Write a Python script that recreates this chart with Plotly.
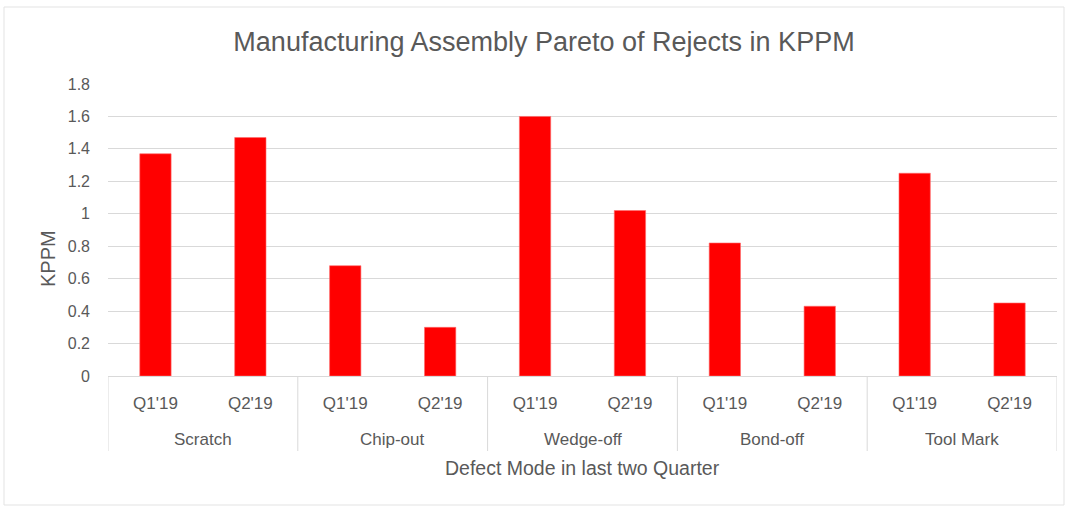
import plotly.graph_objects as go

# Defect modes (outer category) and quarters (inner category)
defect_modes = ["Scratch", "Chip-out", "Wedge-off", "Bond-off", "Tool Mark"]
quarters = ["Q1'19", "Q2'19"]
# Rejects in KPPM, Q1 then Q2 for each defect mode
kppm_q1 = [1.37, 0.68, 1.60, 0.82, 1.25]
kppm_q2 = [1.47, 0.30, 1.02, 0.43, 0.45]
y_ticks = [0, 0.2, 0.4, 0.6, 0.8, 1, 1.2, 1.4, 1.6, 1.8]
y_tick_labels = ["0", "0.2", "0.4", "0.6", "0.8", "1", "1.2", "1.4", "1.6", "1.8"]

# one category per (mode, quarter) pair; the axis shows only the quarter
categories, tick_text, values = [], [], []
for mode, a, b in zip(defect_modes, kppm_q1, kppm_q2):
    for q, v in zip(quarters, (a, b)):
        categories.append(f"{mode}|{q}")
        tick_text.append(q)
        values.append(v)

text_color = "#595959"
grid_color = "#d9d9d9"
font_family = "Liberation Sans, Arial, sans-serif"

W, H = 1068, 506
ml, mr, mt, mb = 108, 11, 84, 130
plot_w = W - ml - mr
plot_h = H - mt - mb


def py(px):
    """Pixel row (from top of page) to paper y coordinate."""
    return (H - mb - px) / plot_h


def px_x(px):
    """Pixel column to paper x coordinate."""
    return (px - ml) / plot_w


fig = go.Figure(
    go.Bar(
        x=categories,
        y=values,
        marker=dict(color="#ff0000", line=dict(color="#ff6b6b", width=0.6)),
    )
)

fig.update_layout(
    width=W,
    height=H,
    margin=dict(l=ml, r=mr, t=mt, b=mb, autoexpand=False),
    paper_bgcolor="white",
    plot_bgcolor="white",
    bargap=0.67,
    showlegend=False,
    font=dict(family=font_family, color=text_color),
    title=dict(
        text="Manufacturing Assembly Pareto of Rejects in KPPM",
        x=544 / W,
        xref="container",
        xanchor="center",
        y=1 - 42 / H,
        yanchor="middle",
        font=dict(size=27, color=text_color, family=font_family),
    ),
    xaxis=dict(
        type="category",
        categoryorder="array",
        categoryarray=categories,
        tickvals=categories,
        ticktext=tick_text,
        range=[-0.5, len(categories) - 0.5],
        showline=True,
        linecolor=grid_color,
        linewidth=1,
        ticks="",
        ticklabelstandoff=12,
        tickfont=dict(size=17, color=text_color),
        automargin=False,
    ),
    yaxis=dict(
        range=[0, 1.8],
        tickvals=y_ticks,
        ticktext=y_tick_labels,
        showgrid=True,
        gridcolor=grid_color,
        gridwidth=1,
        zeroline=False,
        showline=False,
        ticks="",
        ticklabelstandoff=17,
        tickfont=dict(size=16, color=text_color),
        automargin=False,
    ),
)

# group dividers below the axis and the defect-mode labels
n_q = len(quarters)
for i, mode in enumerate(defect_modes):
    left = i * n_q - 0.5
    fig.add_shape(
        type="line", xref="x", yref="paper",
        x0=left, x1=left, y0=0, y1=py(451),
        line=dict(color=grid_color, width=1),
    )
    fig.add_annotation(
        x=i * n_q + (n_q - 1) / 2, xref="x",
        y=py(439), yref="paper", yanchor="middle",
        text=mode, showarrow=False,
        font=dict(size=17, color=text_color),
    )
last = len(categories) - 0.5
fig.add_shape(
    type="line", xref="x", yref="paper",
    x0=last, x1=last, y0=0, y1=py(451),
    line=dict(color=grid_color, width=1),
)

# axis titles
fig.add_annotation(
    x=0.5, xref="paper", y=py(468), yref="paper", yanchor="middle",
    text="Defect Mode in last two Quarter", showarrow=False,
    font=dict(size=19.5, color=text_color),
)
fig.add_annotation(
    x=px_x(48), xref="paper", xanchor="center",
    y=py(258), yref="paper", yanchor="middle",
    text="KPPM", textangle=-90, showarrow=False,
    font=dict(size=20, color=text_color),
)

# light outer frame around the whole chart
fig.add_shape(
    type="rect", xref="paper", yref="paper",
    x0=px_x(4), x1=px_x(1064), y0=py(505), y1=py(7),
    line=dict(color="#e3e3e3", width=1),
    fillcolor="rgba(0,0,0,0)",
    layer="below",
)

fig.write_html("out.html")
